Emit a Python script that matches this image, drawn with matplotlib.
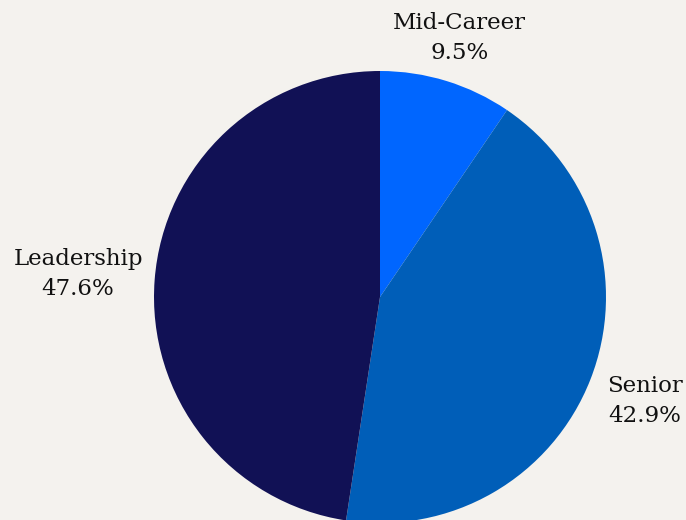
import matplotlib.pyplot as plt
import numpy as np

# --- Data ---
labels = ["Mid-Career", "Senior", "Leadership"]
shares = [9.5, 42.9, 47.6]
colors = ["#0066FF", "#005EB8", "#111155"]
label_dist = [1.2, 1.26, 1.34]

bg = "#F4F2EE"

fig = plt.figure(figsize=(6.86, 5.2), dpi=100, facecolor=bg)
# pie centre ~ (380, 297) px, radius ~ 226 px
cx, cy, r = 380, 297, 226
ax = fig.add_axes([(cx - r) / 686, (520 - cy - r) / 520, 2 * r / 686, 2 * r / 520])
ax.set_facecolor(bg)

wedges, _ = ax.pie(shares, colors=colors, startangle=90, counterclock=False,
                   wedgeprops=dict(linewidth=0))

# --- Outside labels ---
for w, lab, val, d in zip(wedges, labels, shares, label_dist):
    ang = np.deg2rad((w.theta1 + w.theta2) / 2)
    ax.text(d * np.cos(ang), d * np.sin(ang), f"{lab}\n{val:.1f}%",
            ha="center", va="center", fontsize=16.5, family="DejaVu Serif",
            linespacing=1.5, color="#111111", clip_on=False)

ax.set_xlim(-1, 1)
ax.set_ylim(-1, 1)
ax.set_aspect("equal")
ax.set_axis_off()

plt.savefig("out.png", dpi=100, facecolor=bg)
